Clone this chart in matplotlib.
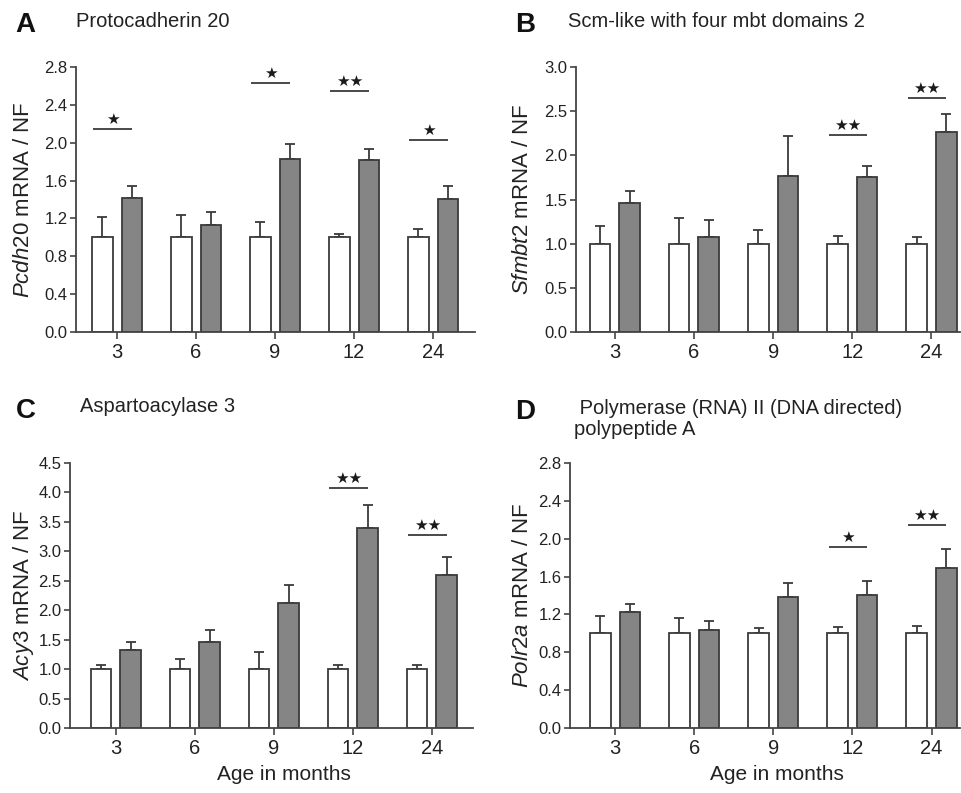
import matplotlib
matplotlib.use("Agg")
import matplotlib.pyplot as plt
import numpy as np

plt.rcParams['font.family'] = ['Liberation Sans', 'DejaVu Sans']
plt.rcParams['mathtext.fontset'] = 'custom'
plt.rcParams['mathtext.it'] = 'Liberation Sans:italic'
plt.rcParams['mathtext.rm'] = 'Liberation Sans'

ages = ['3', '6', '9', '12', '24']

# Panel A: Pcdh20
a_white = [1.0, 1.0, 1.0, 1.0, 1.0]
a_white_err = [0.215, 0.24, 0.16, 0.04, 0.09]
a_grey = [1.42, 1.13, 1.83, 1.82, 1.41]
a_grey_err = [0.12, 0.14, 0.16, 0.11, 0.13]
a_sig_idx = [0, 2, 3, 4]
a_sig_lbl = ['*', '*', '**', '*']
a_sig_y = [2.14, 2.63, 2.55, 2.03]

# Panel B: Sfmbt2
b_white = [1.0, 1.0, 1.0, 1.0, 1.0]
b_white_err = [0.20, 0.29, 0.15, 0.09, 0.08]
b_grey = [1.46, 1.08, 1.77, 1.75, 2.26]
b_grey_err = [0.14, 0.19, 0.45, 0.13, 0.21]
b_sig_idx = [3, 4]
b_sig_lbl = ['**', '**']
b_sig_y = [2.23, 2.65]

# Panel C: Acy3
c_white = [1.0, 1.0, 1.0, 1.0, 1.0]
c_white_err = [0.075, 0.18, 0.29, 0.075, 0.075]
c_grey = [1.32, 1.46, 2.12, 3.40, 2.59]
c_grey_err = [0.14, 0.20, 0.31, 0.38, 0.31]
c_sig_idx = [3, 4]
c_sig_lbl = ['**', '**']
c_sig_y = [4.07, 3.28]

# Panel D: Polr2a
d_white = [1.0, 1.0, 1.0, 1.0, 1.0]
d_white_err = [0.18, 0.16, 0.06, 0.07, 0.08]
d_grey = [1.225, 1.04, 1.38, 1.41, 1.69]
d_grey_err = [0.085, 0.09, 0.15, 0.14, 0.20]
d_sig_idx = [3, 4]
d_sig_lbl = ['*', '**']
d_sig_y = [1.91, 2.14]

W, H = 961, 793
fig = plt.figure(figsize=(W / 100, H / 100), dpi=100)

EDGE = '#3a3a3a'
GREY = '#858585'

panels = [
    dict(letter='A', title='Protocadherin 20', gene='Pcdh20',
         white=a_white, werr=a_white_err, grey=a_grey, gerr=a_grey_err,
         sidx=a_sig_idx, slbl=a_sig_lbl, sy=a_sig_y,
         ymax=2.8, ystep=0.4, rect=(76, 67, 475, 332), xlim=(-0.52, 4.53),
         letter_xy=(15, 32), title_xy=(76, 27), ylab_x=24, xlabel=False),
    dict(letter='B', title='Scm-like with four mbt domains 2', gene='Sfmbt2',
         white=b_white, werr=b_white_err, grey=b_grey, gerr=b_grey_err,
         sidx=b_sig_idx, slbl=b_sig_lbl, sy=b_sig_y,
         ymax=3.0, ystep=0.5, rect=(576, 67, 960, 332), xlim=(-0.49, 4.36),
         letter_xy=(515, 32), title_xy=(568, 27), ylab_x=522, xlabel=False),
    dict(letter='C', title='Aspartoacylase 3', gene='Acy3',
         white=c_white, werr=c_white_err, grey=c_grey, gerr=c_grey_err,
         sidx=c_sig_idx, slbl=c_sig_lbl, sy=c_sig_y,
         ymax=4.5, ystep=0.5, rect=(70, 463, 473, 728), xlim=(-0.58, 4.52),
         letter_xy=(16, 418), title_xy=(80, 412), ylab_x=24, xlabel=True),
    dict(letter='D', title=' Polymerase (RNA) II (DNA directed)\npolypeptide A', gene='Polr2a',
         white=d_white, werr=d_white_err, grey=d_grey, gerr=d_grey_err,
         sidx=d_sig_idx, slbl=d_sig_lbl, sy=d_sig_y,
         ymax=2.8, ystep=0.4, rect=(570, 463, 960, 728), xlim=(-0.57, 4.36),
         letter_xy=(515, 419), title_xy=(574, 435), ylab_x=522, xlabel=True),
]

for p in panels:
    x0, y0, x1, y1 = p['rect']
    ax = fig.add_axes([x0 / W, 1 - y1 / H, (x1 - x0) / W, (y1 - y0) / H])
    x = np.arange(len(ages))
    bw = 0.26
    off = 0.187
    ax.bar(x - off, p['white'], bw, color='white', edgecolor=EDGE, linewidth=1.3, zorder=2)
    ax.bar(x + off, p['grey'], bw, color=GREY, edgecolor=EDGE, linewidth=1.3, zorder=2)
    zeros = np.zeros(len(ages))
    ax.errorbar(x - off, p['white'], yerr=[zeros, p['werr']], fmt='none',
                ecolor=EDGE, elinewidth=1.3, capsize=3.5, capthick=1.3, zorder=1)
    ax.errorbar(x + off, p['grey'], yerr=[zeros, p['gerr']], fmt='none',
                ecolor=EDGE, elinewidth=1.3, capsize=3.5, capthick=1.3, zorder=1)
    for i, lbl, yv in zip(p['sidx'], p['slbl'], p['sy']):
        ax.plot([i - 0.30, i + 0.185], [yv, yv], color=EDGE, linewidth=1.3,
                solid_capstyle='butt', clip_on=False)
        ax.text(i - 0.058, yv + p['ymax'] * 0.008, '\u2605' * len(lbl),
                family='DejaVu Sans', fontsize=11, ha='center', va='bottom',
                color='#1a1a1a')
    ax.set_xlim(*p['xlim'])
    ax.set_ylim(0, p['ymax'])
    ax.set_yticks(np.arange(0, p['ymax'] + 1e-9, p['ystep']))
    ax.yaxis.set_major_formatter(matplotlib.ticker.FormatStrFormatter('%.1f'))
    ax.set_xticks(x)
    ax.set_xticklabels(ages)
    for s in ['top', 'right']:
        ax.spines[s].set_visible(False)
    for s in ['left', 'bottom']:
        ax.spines[s].set_color('#444444')
        ax.spines[s].set_linewidth(1.3)
    ax.tick_params(axis='y', length=4, width=1.2, color='#444444', labelsize=12,
                   labelcolor='#222222', pad=2)
    ax.tick_params(axis='x', length=5, width=1.2, color='#444444', labelsize=14.5,
                   labelcolor='#222222', pad=3)
    ax.set_ylabel(r'$\mathit{' + p['gene'] + r'}$ mRNA / NF', fontsize=16, color='#222222')
    ax.yaxis.label.set_va('center')
    ax.yaxis.set_label_coords((p['ylab_x'] - x0) / (x1 - x0), 0.5)
    if p['xlabel']:
        ax.set_xlabel('Age in months', fontsize=15, color='#222222')
        ax.xaxis.set_label_coords(0.53, -0.175)
        ax.xaxis.label.set_va('center')
    fig.text(p['letter_xy'][0] / W, 1 - p['letter_xy'][1] / H, p['letter'],
             fontsize=20, fontweight='bold', ha='left', va='baseline', color='#111111')
    fig.text(p['title_xy'][0] / W, 1 - p['title_xy'][1] / H, p['title'],
             fontsize=14.5, ha='left', va='baseline', color='#222222',
             linespacing=1.15)

fig.savefig('out.png', dpi=100)
